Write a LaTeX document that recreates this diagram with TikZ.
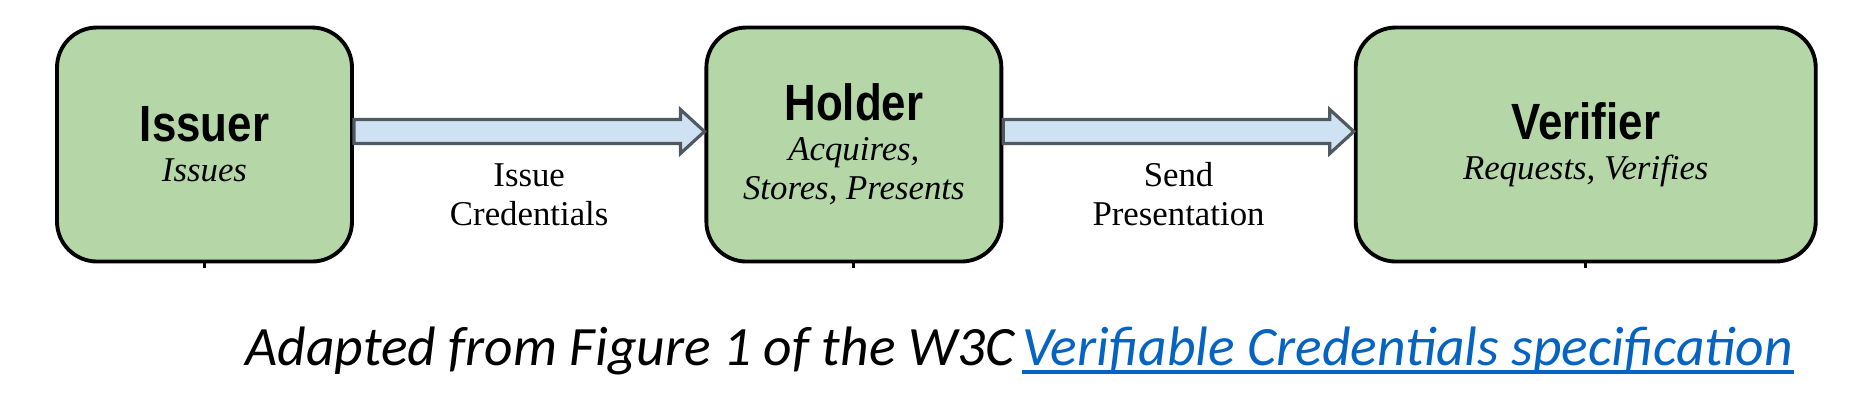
\documentclass[tikz,border=0pt]{standalone}
\usepackage{fontspec}
\setmainfont{Liberation Serif}
\newfontfamily\rolefont[FakeStretch=0.86]{Liberation Sans}
\newfontfamily\notefont{Carlito}
\usetikzlibrary{positioning,calc}

\definecolor{rolegreen}{RGB}{181,215,168}
\definecolor{flowblue}{RGB}{207,226,243}
\definecolor{flowedge}{RGB}{80,88,96}
\definecolor{linkblue}{RGB}{5,99,193}

\tikzset{
  role/.style={draw=black, line width=1.1pt, fill=rolegreen, rounded corners=0.4cm,
    minimum height=2.34cm, align=center, inner sep=0pt,
    font=\fontsize{9.9}{11.1}\selectfont},
  flowarrow/.style={draw=flowedge, fill=flowblue, line width=0.9pt, line join=miter},
  flowlabel/.style={align=center, font=\fontsize{9.9}{11.1}\selectfont},
  note/.style={inner sep=0pt, font=\notefont\itshape\fontsize{15.8}{18}\selectfont},
}

\newcommand{\roletitle}[1]{{\rolefont\bfseries\fontsize{14.5}{15}\selectfont #1}\\[0.3pt]}

% block arrow from the east side of #1 to the west side of #2
\newcommand{\blockflow}[2]{%
  \coordinate (bf-s) at ($(#1.east)+(0,0.13)$);
  \coordinate (bf-t) at ($(#2.west)+(0,0.13)$);
  \draw[flowarrow] ($(bf-s)+(0,0.12)$) -- ($(bf-t)+(-0.24,0.12)$) -- ($(bf-t)+(-0.24,0.22)$)
    -- (bf-t) -- ($(bf-t)+(-0.24,-0.22)$) -- ($(bf-t)+(-0.24,-0.12)$) -- ($(bf-s)+(0,-0.12)$) -- cycle;}

\begin{document}
\begin{tikzpicture}
  \useasboundingbox (0,0) rectangle (18.5,-4.03);

  % the three roles
  \node[role, minimum width=2.95cm] (issuer) at (2.045,-1.445) {\roletitle{Issuer}\textit{Issues}};
  \node[role, minimum width=2.95cm, right=3.505cm of issuer] (holder) {\roletitle{Holder}\textit{Acquires,}\\\textit{Stores, Presents}};
  \node[role, minimum width=4.6cm, right=3.505cm of holder] (verifier) {\roletitle{Verifier}\textit{Requests, Verifies}};

  % small stubs under the boxes
  \draw[line width=0.8pt] (issuer.south) -- ++(0,-0.05);
  \draw[line width=0.8pt] (holder.south) -- ++(0,-0.05);
  \draw[line width=0.8pt] (verifier.south) -- ++(0,-0.05);

  % flows
  \blockflow{issuer}{holder}
  \blockflow{holder}{verifier}
  \node[flowlabel] (issuelbl) at ($(issuer.east)!0.5!(holder.west)+(0,-0.5)$) {Issue\\Credentials};
  \node[flowlabel] (sendlbl) at ($(holder.east)!0.5!(verifier.west)+(0,-0.5)$) {Send\\Presentation};

  % source note
  \node[note, anchor=base west] (notetext) at (2.45,-3.65) {Adapted from Figure 1 of the W3C};
  \node[note, anchor=base west, text=linkblue] (notelink) at ($(notetext.base east)+(0.06,0)$) {Verifiable Credentials specification};
  \draw[linkblue, line width=1.2pt] ($(notelink.base west)+(0,-0.07)$) -- ($(notelink.base east)+(0,-0.07)$);
\end{tikzpicture}
\end{document}
